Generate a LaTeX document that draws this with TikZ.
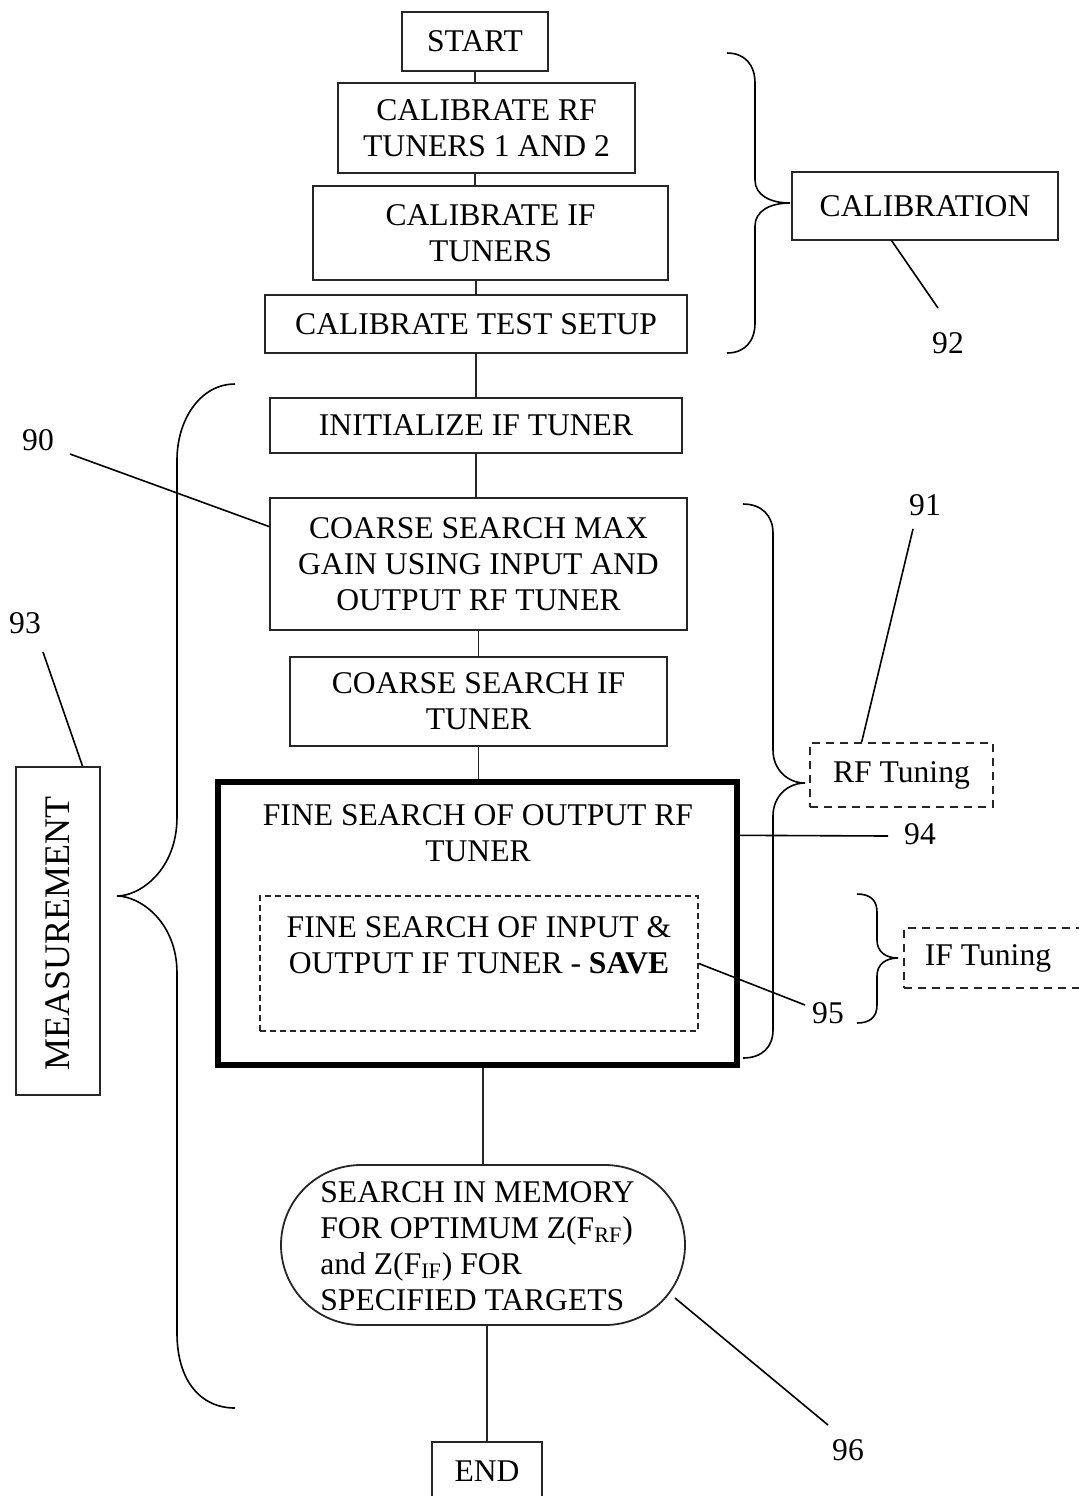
\documentclass[tikz,border=0pt]{standalone}
\usepackage{fontspec}
\setmainfont{Liberation Serif}
\usetikzlibrary{calc}
\newcommand\myfs{\fontsize{15.8}{18}\selectfont}
\begin{document}
\begin{tikzpicture}[x=0.5pt,y=-0.5pt,
  box/.style={draw=black!85, line width=0.9pt, inner sep=0pt, align=center, font=\myfs},
  thickbox/.style={draw=black, line width=2.6pt, inner sep=0pt},
  dbox/.style={draw=black!85, line width=0.8pt, dash pattern=on 3pt off 2pt, inner sep=0pt},
  ddbox/.style={draw=black!85, line width=0.8pt, dash pattern=on 4pt off 3pt, inner sep=0pt},
  txt/.style={inner sep=0pt, align=center, font=\myfs},
  conn/.style={draw=black!85, line width=0.8pt},
  brace/.style={draw=black, line width=0.8pt},
  lead/.style={draw=black, line width=0.8pt}]
\useasboundingbox (0,0) rectangle (1078,1496);
% flow boxes
\node[box, minimum width=73pt, minimum height=29.5pt] (start) at (475,41.5) {START};
\node[box, minimum width=148.5pt, minimum height=45pt] (calrf) at (486.5,128) {CALIBRATE RF\\TUNERS 1 AND 2};
\node[box, minimum width=177.5pt, minimum height=47pt] (calif) at (490.5,233) {CALIBRATE IF\\TUNERS};
\node[box, minimum width=211pt, minimum height=29pt] (caltest) at (476,324) {CALIBRATE TEST SETUP};
\node[box, minimum width=206pt, minimum height=27.5pt] (init) at (476,425.5) {INITIALIZE IF TUNER};
\node[box, minimum width=208.5pt, minimum height=66pt] (coarse1) at (478.5,564) {COARSE SEARCH MAX\\GAIN USING INPUT AND\\OUTPUT RF TUNER};
\node[box, minimum width=188.5pt, minimum height=44.5pt] (coarse2) at (478.5,701.5) {COARSE SEARCH IF\\TUNER};
\node[thickbox, minimum width=259.5pt, minimum height=141.5pt] (fine) at (477.5,923.5) {};
\node[txt] (finetxt) at (478,833) {FINE SEARCH OF OUTPUT RF\\TUNER};
\node[dbox, minimum width=219pt, minimum height=67.5pt] (inner) at (479,963.5) {};
\node[txt] (innertxt) at (479,945) {FINE SEARCH OF INPUT \&\\OUTPUT IF TUNER - \textbf{SAVE}};
\node[box, rounded corners=40pt, minimum width=202pt, minimum height=80pt] (search) at (483,1245) {};
\node[txt, align=left, anchor=west] (searchtxt) at (320,1246) {SEARCH IN MEMORY\\FOR OPTIMUM Z(F\textsubscript{RF})\\and Z(F\textsubscript{IF}) FOR\\SPECIFIED TARGETS};
\node[box, minimum width=55pt, minimum height=29pt] (end) at (487,1471) {END};
% side boxes
\node[box, minimum width=133pt, minimum height=34pt] (calib) at (925,206) {CALIBRATION};
\node[box, minimum width=42pt, minimum height=164pt] (measure) at (58,931) {};
\node[txt, rotate=90] (meastxt) at (58,933) {\fontsize{18}{20}\selectfont MEASUREMENT};
\node[ddbox, minimum width=91.5pt, minimum height=32pt, font=\myfs] (rftune) at (901.5,775) {RF Tuning};
\node[ddbox, minimum width=93pt, minimum height=30pt] (iftune) at (997,958) {};
\node[txt] (iftxt) at (988,958) {IF Tuning};
% connectors
\draw[conn] (start.south) -- (start.south |- calrf.north);
\draw[conn] (calrf.south -| start) -- (calif.north -| start);
\draw[conn] (calif.south -| caltest) -- (caltest.north);
\draw[conn] (caltest.south) -- (init.north);
\draw[conn] (init.south) -- (init.south |- coarse1.north);
\draw[conn] (coarse1.south) -- (coarse2.north);
\draw[conn] (coarse2.south) -- (coarse2.south |- fine.north);
\draw[conn] (search.north |- fine.south) -- (search.north);
\draw[conn] (search.south -| end) -- (end.north);
% braces
\draw[brace] (727,53) .. controls (745,53) and (755,65) .. (755,83) -- (755,180)
  .. controls (755,195) and (770,203) .. (790,203)
  .. controls (770,203) and (755,211) .. (755,226) -- (755,323)
  .. controls (755,341) and (745,353) .. (727,353);
\draw[brace] (743,504) .. controls (762,504) and (773,516) .. (773,533) -- (773,750)
  .. controls (773,770) and (788,783) .. (805,783)
  .. controls (788,783) and (773,796) .. (773,816) -- (773,1030)
  .. controls (773,1047) and (762,1058) .. (743,1058);
\draw[brace] (857,894) .. controls (870,894) and (877,900) .. (877,912) -- (877,940)
  .. controls (877,952) and (886,958) .. (898,958)
  .. controls (886,958) and (877,964) .. (877,976) -- (877,1005)
  .. controls (877,1017) and (870,1023) .. (857,1023);
\draw[brace] (235,384) .. controls (200,384) and (177,420) .. (177,460) -- (177,817)
  .. controls (177,870) and (140,896) .. (117,896)
  .. controls (140,896) and (177,922) .. (177,973) -- (177,1333)
  .. controls (177,1380) and (200,1408) .. (235,1408);
% reference numerals
\node[txt] (n90) at (38,440) {90};
\node[txt] (n91) at (925,505) {91};
\node[txt] (n92) at (948,343) {92};
\node[txt] (n93) at (25,623) {93};
\node[txt] (n94) at (920,834) {94};
\node[txt] (n95) at (828,1013) {95};
\node[txt] (n96) at (848,1450) {96};
\coordinate (l90) at (70,454);
\coordinate (l91) at (913,529);
\coordinate (l92) at (938,308);
\coordinate (l93) at (43,652);
\coordinate (l94) at (888,836);
\coordinate (l95) at (805,1005);
\coordinate (l96) at (828,1425);
\coordinate (s96) at (675,1298);
\draw[lead] (l90) -- ($(coarse1.north west)!0.22!(coarse1.south west)$);
\draw[lead] (l91) -- ($(rftune.north west)!0.284!(rftune.north east)$);
\draw[lead] ($(calib.south west)!0.376!(calib.south east)$) -- (l92);
\draw[lead] (l93) -- ($(measure.north west)!0.786!(measure.north east)$);
\draw[lead] ($(fine.north east)!0.194!(fine.south east)$) -- (l94);
\draw[lead] (inner.east) -- (l95);
\draw[lead] (s96) -- (l96);
\end{tikzpicture}
\end{document}
